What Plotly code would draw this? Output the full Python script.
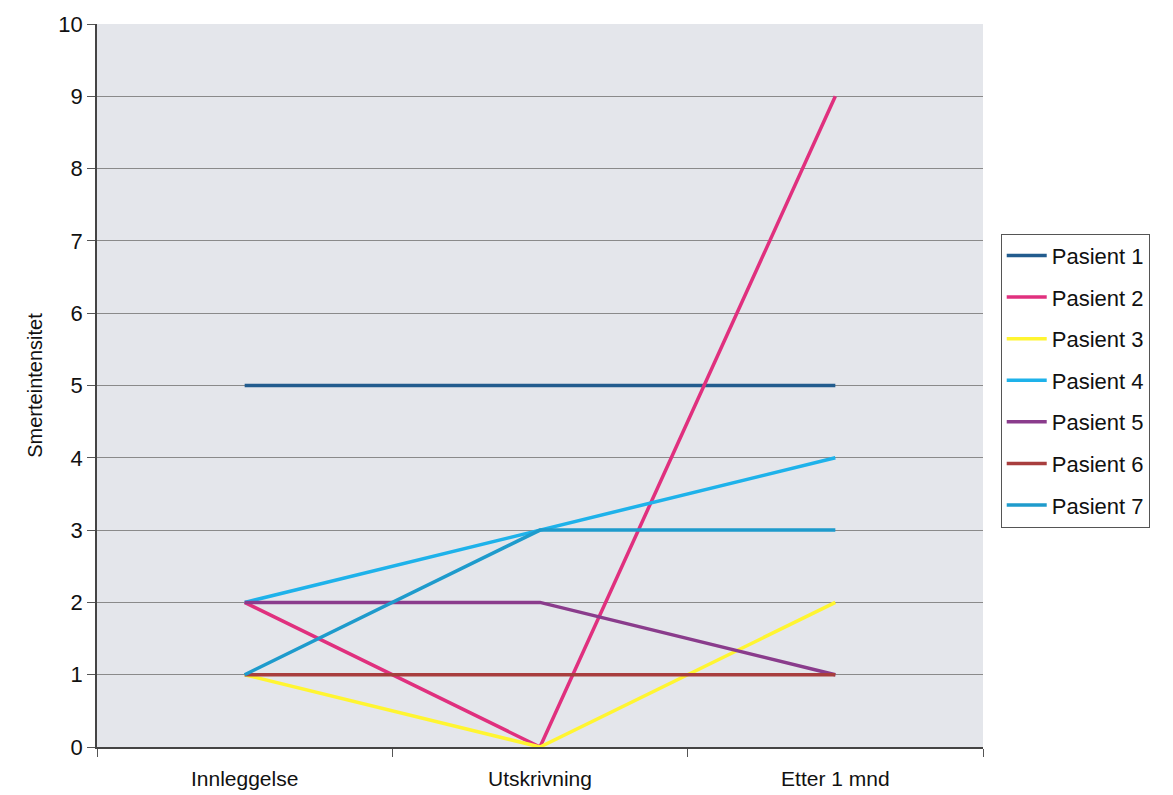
import plotly.graph_objects as go

categories = ["Innleggelse", "Utskrivning", "Etter 1 mnd"]
series_names = ["Pasient 1", "Pasient 2", "Pasient 3", "Pasient 4", "Pasient 5", "Pasient 6", "Pasient 7"]
pasient1 = [5, 5, 5]
pasient2 = [2, 0, 9]
pasient3 = [1, 0, 2]
pasient4 = [2, 3, 4]
pasient5 = [2, 2, 1]
pasient6 = [1, 1, 1]
pasient7 = [1, 3, 3]
values = [pasient1, pasient2, pasient3, pasient4, pasient5, pasient6, pasient7]
colors = ["#225C8E", "#E0307E", "#FFF531", "#1EB2EA", "#8A3C8C", "#A83E3E", "#1E9BCC"]
y_ticks = list(range(0, 11))

fig = go.Figure()
for name, vals, col in zip(series_names, values, colors):
    fig.add_trace(go.Scatter(
        x=categories, y=vals, mode="lines", name=name,
        line=dict(color=col, width=3.5), legendgroup=name,
    ))

# the page body has an 8px default margin, so the figure is sized/offset to compensate
fig.update_layout(
    width=1165, height=787,
    margin=dict(l=89, r=190, t=16, b=48),
    paper_bgcolor="white",
    plot_bgcolor="#E4E6EB",
    font=dict(family="Liberation Sans, Arial, sans-serif", size=22, color="#111"),
    showlegend=True,
    legend=dict(
        x=1.02, y=0.71, xanchor="left", yanchor="top",
        bordercolor="#555", borderwidth=1, bgcolor="white",
        font=dict(size=22), tracegroupgap=10, itemwidth=40,
    ),
    xaxis=dict(
        type="category", tickson="boundaries", ticks="outside", ticklen=8,
        tickcolor="#555", showgrid=False, showline=True, linecolor="#444", linewidth=1.5,
        mirror=False, ticklabelstandoff=12, range=[-0.5, 2.5], automargin=False,
        tickfont=dict(size=21),
    ),
    yaxis=dict(
        range=[0, 10], tickvals=y_ticks, ticks="outside", ticklen=8, tickcolor="#555",
        showgrid=True, gridcolor="#8A8A8A", gridwidth=1, automargin=False,
        showline=True, linecolor="#444", linewidth=1.5, zeroline=False,
        tickfont=dict(size=22),
        title=dict(text="Smerteintensitet", font=dict(size=20), standoff=10),
    ),
)

fig.write_html("out.html")
